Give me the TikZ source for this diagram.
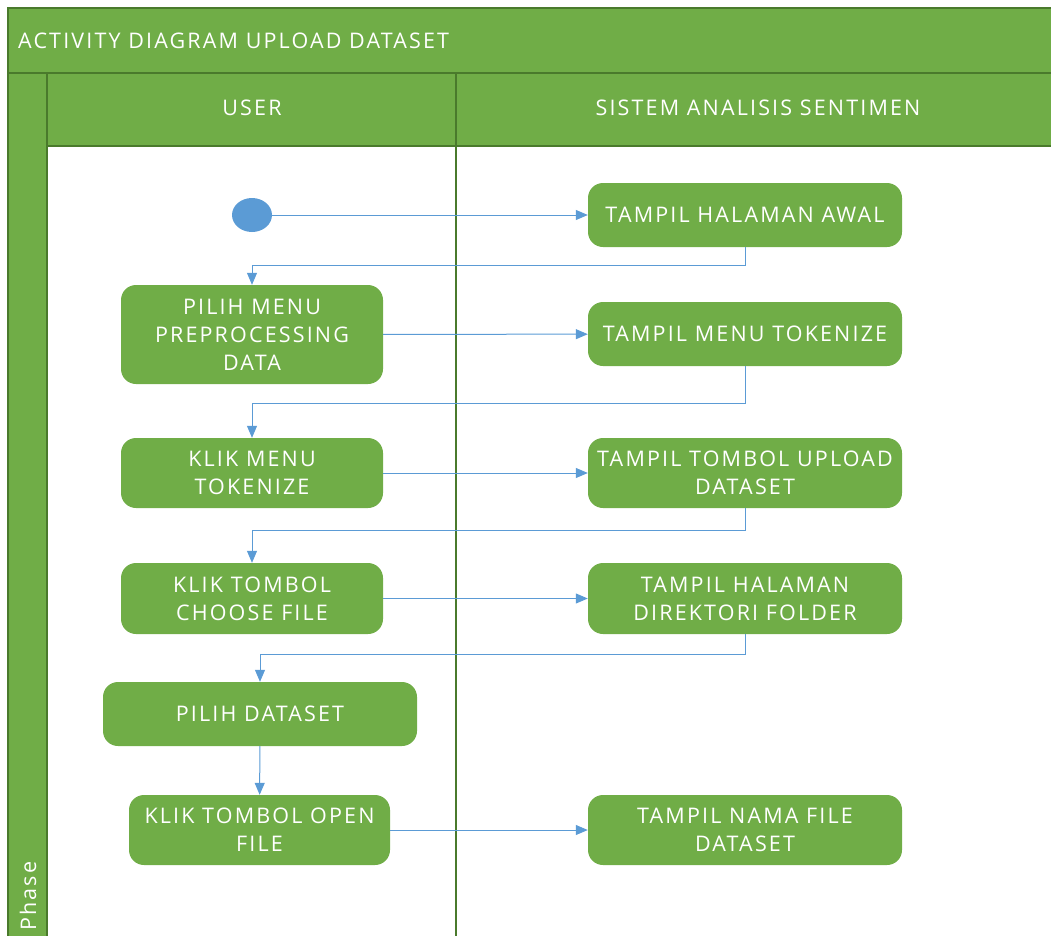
\documentclass[tikz,border=0pt]{standalone}
\usepackage{fontspec}
\setmainfont{Open Sans}[LetterSpace=10]
\usetikzlibrary{arrows.meta,shapes.geometric}
\definecolor{lanegreen}{HTML}{70AD47}
\definecolor{laneborder}{HTML}{4A7A2C}
\definecolor{flowblue}{HTML}{5B9BD5}
\begin{document}
\begin{tikzpicture}[x=1pt,y=-1pt,
  act/.style={fill=lanegreen, rounded corners=15pt, text=white, align=center,
    font=\fontsize{21.5}{28}\selectfont, inner sep=0pt},
  lanetext/.style={text=white, font=\fontsize{21.5}{24}\selectfont, inner sep=0pt},
  flow/.style={draw=flowblue, line width=1pt, -{Triangle[length=12pt,width=10pt]}},
  frame/.style={draw=laneborder, line width=1.5pt}]
\useasboundingbox (0,0) rectangle (1051,935);
\clip (0,0) rectangle (1051,935);

% swimlane frame
\fill[lanegreen] (8,8) rectangle (1060,146);
\fill[lanegreen] (8,146) rectangle (47,940);
\draw[frame] (8,940) -- (8,8) -- (1060,8);
\draw[frame] (8,73) -- (1060,73);
\draw[frame] (47,73) -- (47,940);
\draw[frame] (47,146) -- (1060,146);
\draw[frame] (456,73) -- (456,940);

% pool, lane and phase labels
\node[lanetext, anchor=west] (title) at (18,41) {ACTIVITY DIAGRAM UPLOAD DATASET};
\node[lanetext] (user) at (252,108) {USER};
\node[lanetext] (sistem) at (758,108) {SISTEM ANALISIS SENTIMEN};
\node[lanetext, rotate=90, anchor=west] (phase) at (28,931) {Phase};

% activities
\node[fill=flowblue, ellipse, minimum width=40pt, minimum height=34pt, inner sep=0pt] (start) at (252,215) {};
\node[act, minimum width=314pt, minimum height=64pt] (tha) at (745,215) {TAMPIL HALAMAN AWAL};
\node[act, minimum width=262pt, minimum height=99pt] (pmpd) at (252,334.5) {PILIH MENU\\PREPROCESSING\\DATA};
\node[act, minimum width=314pt, minimum height=64pt] (tmt) at (745,334) {TAMPIL MENU TOKENIZE};
\node[act, minimum width=262pt, minimum height=70pt] (kmt) at (252,473) {KLIK MENU\\TOKENIZE};
\node[act, minimum width=314pt, minimum height=70pt] (ttud) at (745,473) {TAMPIL TOMBOL UPLOAD\\DATASET};
\node[act, minimum width=262pt, minimum height=71pt] (ktcf) at (252,598.5) {KLIK TOMBOL\\CHOOSE FILE};
\node[act, minimum width=314pt, minimum height=71pt] (thdf) at (745,598.5) {TAMPIL HALAMAN\\DIREKTORI FOLDER};
\node[act, minimum width=314pt, minimum height=64pt] (pd) at (260,714) {PILIH DATASET};
\node[act, minimum width=261pt, minimum height=70pt] (ktof) at (259.5,830) {KLIK TOMBOL OPEN\\FILE};
\node[act, minimum width=314pt, minimum height=70pt] (tnfd) at (745,830) {TAMPIL NAMA FILE\\DATASET};

% control flow
\draw[flow] (start) -- (tha);
\draw[flow] (tha.south) -- ++(0,18) -| (pmpd.north);
\draw[flow] (pmpd) -- (tmt);
\draw[flow] (tmt.south) -- ++(0,37) -| (kmt.north);
\draw[flow] (kmt) -- (ttud);
\draw[flow] (ttud.south) -- ++(0,22) -| (ktcf.north);
\draw[flow] (ktcf) -- (thdf);
\draw[flow] (thdf.south) -- ++(0,20) -| (pd.north);
\draw[flow] (pd) -- (ktof);
\draw[flow] (ktof) -- (tnfd);
\end{tikzpicture}
\end{document}
